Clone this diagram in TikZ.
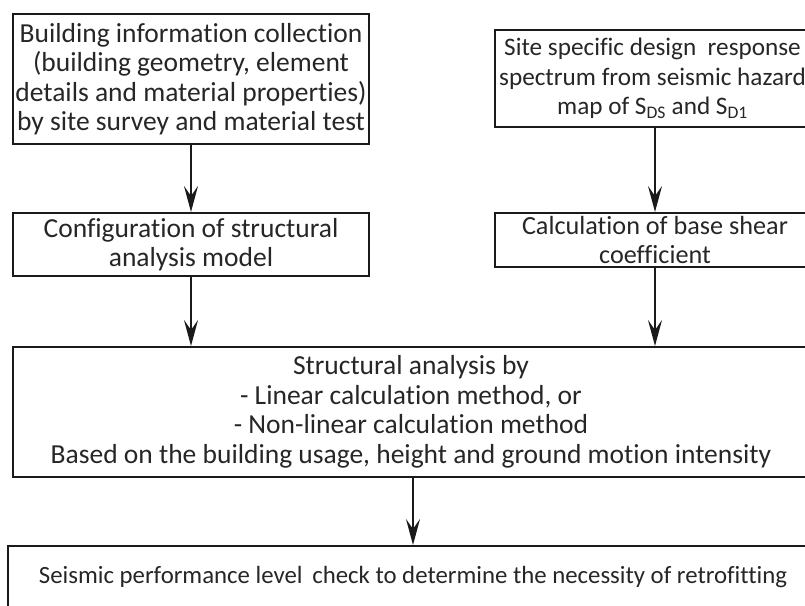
\documentclass[tikz,border=0pt]{standalone}
\usepackage{fontspec}
\setmainfont{Carlito}[Ligatures=NoCommon]
\usetikzlibrary{arrows.meta}
\definecolor{txtgray}{HTML}{262626}
\definecolor{edgeblk}{HTML}{1A1A1A}

\begin{document}
\begin{tikzpicture}[x=1pt, y=-1pt, >={Stealth[length=26pt, width=14pt, inset=10pt]},
  stepbox/.style={draw=edgeblk, line width=2pt, text=txtgray, align=center,
    anchor=north west, inner sep=0pt, font=\fontsize{27.5}{29.5}\selectfont},
  smallbox/.style={stepbox, font=\fontsize{26.2}{29.5}\selectfont},
  flow/.style={->, edgeblk, line width=2.2pt}]

\useasboundingbox (0,0) rectangle (805,605);
\clip (0,0) rectangle (805,605);

%%% Left column
% Building data
\node[stepbox, minimum width=356pt, minimum height=130pt] (info) at (12,13)
  {Building information collection\\(building geometry, element\\details and material properties)\\by site survey and material test};

% Model
\node[stepbox, minimum width=356pt, minimum height=63pt] (cfg) at (12,212)
  {Configuration of structural\\analysis model};

%%% Right column
% Hazard spectrum
\node[smallbox, font=\fontsize{25.2}{29.5}\selectfont, minimum width=315pt, minimum height=97pt] (site) at (494,29)
  {Site specific design~ response\\spectrum from seismic hazard\\map of S\textsubscript{DS} and S\textsubscript{D1}};

% Base shear
\node[smallbox, minimum width=320pt, minimum height=54pt] (shear) at (494,212)
  {Calculation of base shear\\coefficient};

%%% Analysis and check
\node[stepbox, minimum width=796pt, minimum height=130pt] (ana) at (12,346)
  {Structural analysis by\\- Linear calculation method, or\\- Non-linear calculation method\\Based on the building usage, height and ground motion intensity};

\node[stepbox, font=\fontsize{24.8}{29.5}\selectfont, minimum width=810pt, minimum height=62pt] (check) at (7,545)
  {Seismic performance level\, check to determine the necessity of retrofitting};

%%% Arrows
\draw[flow] (shear.north |- site.south) -- (shear.north);
\draw[flow] (info.south) -- (cfg.north);
\draw[flow] (cfg.south) -- (cfg.south |- ana.north);
\draw[flow] (shear.south) -- (shear.south |- ana.north);
\draw[flow] (ana.south -| check.north) -- (check.north);

\end{tikzpicture}
\end{document}
